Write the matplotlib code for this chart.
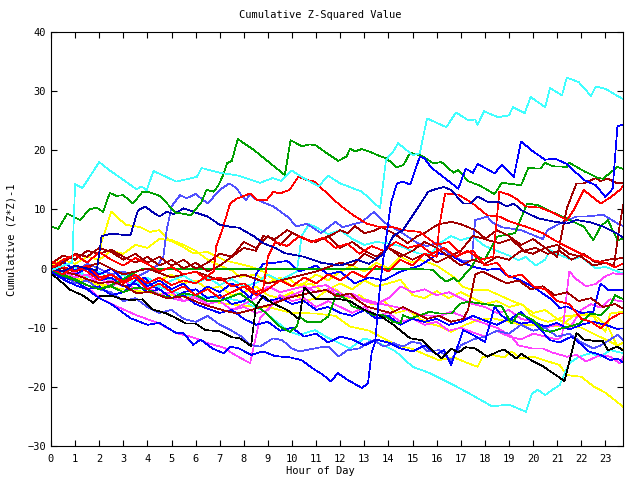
import matplotlib
matplotlib.use("Agg")
import matplotlib.pyplot as plt

# (hour, cumulative value) vertices, one list per trace
cyan_top = [(0, -0.3), (0.5, 0.5), (0.88, 1.0), (1.0, 14.3), (1.3, 13.6), (2.0, 18.0), (2.4, 16.7),
            (3.0, 15.0), (3.55, 13.4), (3.76, 13.9), (3.97, 13.2), (4.25, 16.5), (5.2, 14.7),
            (6.05, 15.5), (6.25, 17.0), (7.0, 16.2), (7.8, 15.7), (8.67, 14.5), (9.2, 15.3),
            (9.55, 14.8), (9.98, 16.6), (10.4, 15.5), (11.1, 13.9), (11.5, 15.7), (12.0, 14.4),
            (12.9, 13.0), (13.65, 10.2), (13.9, 18.4), (14.2, 19.8), (14.4, 21.2), (15.0, 19.2),
            (15.3, 19.5), (15.6, 25.4), (16.4, 23.9), (16.8, 26.4), (17.3, 25.1), (17.6, 25.2),
            (17.7, 24.3), (17.96, 26.6), (18.54, 25.6), (19.0, 25.9), (19.16, 27.3), (19.65, 26.3),
            (19.9, 29.0), (20.5, 27.3), (20.7, 30.5), (21.2, 29.3), (21.4, 32.3), (21.9, 31.5),
            (22.4, 29.2), (22.6, 30.8), (23.0, 30.4), (23.75, 28.6)]
green_top = [(0, 7.1), (0.3, 6.7), (0.68, 9.3), (1.2, 8.2), (1.6, 10.0), (1.9, 10.3), (2.16, 9.6),
             (2.44, 12.8), (2.7, 12.3), (3.0, 12.4), (3.4, 11.0), (3.8, 13.0), (4.0, 13.0), (4.5, 12.3),
             (5.2, 9.4), (5.45, 9.3), (5.8, 9.0), (6.25, 11.3), (6.45, 13.3), (6.75, 13.0), (6.95, 14.1),
             (7.15, 15.9), (7.3, 17.8), (7.5, 18.2), (7.75, 21.9), (8.0, 21.2), (8.4, 20.1), (9.1, 17.8),
             (9.7, 15.8), (9.94, 21.7), (10.4, 20.7), (10.75, 21.0), (11.0, 20.8), (11.44, 19.5),
             (11.92, 18.2), (12.27, 19.0), (12.41, 20.3), (12.6, 19.8), (12.89, 20.2), (13.2, 19.8),
             (13.65, 19.0), (13.93, 18.6), (14.34, 17.1), (14.62, 17.5), (14.9, 19.6), (15.38, 19.1),
             (15.86, 17.8), (16.2, 18.0), (16.7, 16.2), (16.9, 16.7), (17.3, 14.8), (17.8, 14.0),
             (18.4, 12.6), (18.7, 14.5), (19.5, 14.1), (19.8, 17.0), (20.3, 16.9), (20.5, 17.9),
             (20.8, 17.3), (21.4, 17.2), (21.5, 17.9), (22.1, 16.5), (22.7, 15.3), (22.9, 15.2),
             (23.5, 17.2), (23.75, 16.8)]
blue_deep = [(0, -0.5), (0.5, -1.8), (1, -2.8), (1.5, -3.5), (2, -5.0), (2.5, -6.0), (3, -7.5), (3.3, -8.4),
             (4, -9.5), (4.5, -9.2), (5.2, -10.9), (5.5, -10.9), (5.9, -12.9), (6.2, -12.0), (6.7, -13.5),
             (7.15, -14.3), (7.45, -13.2), (7.8, -13.5), (8.3, -14.6), (8.8, -14.0), (9.3, -14.8),
             (9.9, -15.0), (10.4, -15.5), (10.9, -17.0), (11.3, -18.0), (11.6, -19.1), (11.9, -17.7),
             (12.3, -18.8), (12.9, -20.2), (13.15, -19.4), (13.3, -14.3), (13.45, -12.4), (13.6, -5.0),
             (13.75, 0.5), (13.9, 5.0), (14.1, 11.0), (14.35, 14.4), (14.6, 14.7), (14.9, 14.2),
             (15.3, 18.9), (15.5, 18.6), (15.77, 17.1), (16.9, 13.5), (17.2, 16.9), (17.5, 16.2),
             (17.7, 17.7), (18.4, 16.1), (18.7, 17.5), (19.2, 15.5), (19.5, 21.5), (20.0, 19.8),
             (20.5, 18.4), (20.9, 18.6), (21.4, 17.7), (22.1, 15.0), (22.6, 14.1), (23.0, 12.1),
             (23.3, 13.5), (23.5, 24.1), (23.75, 24.3)]
navy_mid = [(0, 0.0), (0.5, -0.5), (1, 0.5), (1.5, 0.0), (1.9, -0.3), (2.1, 5.5), (2.5, 5.9), (3.0, 5.7),
            (3.3, 5.7), (3.6, 9.8), (3.9, 10.5), (4.2, 9.6), (4.5, 8.8), (4.8, 9.6), (5.1, 9.2), (5.5, 10.2),
            (5.9, 9.6), (6.5, 8.8), (7.0, 7.4), (7.4, 7.1), (7.8, 6.9), (8.4, 5.5), (8.8, 4.3), (9.3, 3.5),
            (9.7, 2.6), (10.5, 2.0), (11.2, 1.0), (12.0, 0.5), (12.7, 1.5), (13.2, 0.8), (13.8, 2.5),
            (14.2, 5.5), (14.6, 6.5), (15.3, 10.8), (15.65, 13.0), (16.0, 13.5), (16.3, 13.8),
            (16.6, 13.3), (17.1, 11.0), (17.4, 11.0), (17.7, 12.2), (18.1, 11.3), (18.55, 11.3),
            (18.9, 10.5), (19.2, 11.0), (19.5, 9.9), (20.2, 8.5), (20.8, 8.0), (21.4, 7.6), (21.8, 8.2),
            (22.4, 7.8), (22.9, 7.1), (23.5, 5.9), (23.75, 5.2)]
peri_top = [(0, 0.5), (0.5, 0.0), (1, -0.5), (1.5, 0.8), (2, 0.0), (2.5, -1.0), (3, -0.5), (3.5, -1.5),
            (4, -0.5), (4.4, 0.5), (4.66, 2.0), (4.8, 6.5), (5.0, 10.5), (5.35, 12.4), (5.63, 11.9),
            (6.0, 12.6), (6.5, 11.0), (7.0, 13.3), (7.4, 14.4), (7.7, 13.6), (7.84, 12.7), (8.1, 11.6),
            (8.25, 12.5), (8.5, 11.7), (9.23, 10.5), (9.8, 8.8), (10.2, 7.1), (10.6, 7.6), (11.2, 6.0),
            (11.8, 7.9), (12.1, 7.0), (12.9, 7.9), (13.4, 9.6), (13.9, 7.6), (14.5, 6.2), (15.2, 4.3),
            (15.6, 3.8), (16.0, 4.3), (16.5, 2.5), (17.1, 1.2), (17.45, 1.4), (17.6, 8.2), (18.1, 8.8),
            (18.3, 7.8), (18.7, 7.0), (19.5, 6.5), (20.4, 5.0), (20.6, 6.5), (21.1, 7.6), (21.8, 8.8),
            (22.2, 8.8), (22.9, 9.1), (23.6, 7.4), (23.75, 7.2)]
red_peak = [(0, 1.2), (0.5, 0.3), (1, -0.5), (1.5, 0.5), (2, -1.5), (2.5, -1.0), (3, -2.2), (3.5, -1.0),
            (4, -2.5), (4.5, -1.5), (5, -2.8), (5.5, -2.0), (6, -2.5), (6.5, -1.2), (6.75, -0.5),
            (6.85, 3.7), (7.1, 6.5), (7.43, 11.0), (7.7, 11.8), (8.26, 12.7), (8.53, 11.6), (8.95, 11.6),
            (9.23, 13.0), (9.5, 12.7), (9.9, 13.3), (10.26, 15.5), (10.6, 15.0), (10.95, 14.7),
            (11.3, 13.3), (11.99, 10.7), (12.55, 9.0), (13.1, 7.6), (13.65, 7.0), (14.2, 7.0),
            (14.6, 6.5), (15.3, 6.2), (16.0, 4.0), (16.5, 4.5), (17.0, 2.5), (17.5, 3.0), (18.0, 0.5),
            (18.5, 1.0), (19.0, -1.5), (19.5, -1.0), (20.0, -3.0), (20.5, -3.5), (21.0, -5.5),
            (21.5, -6.0), (22.0, -8.5), (22.4, -9.0), (22.8, -10.1), (23.2, -8.5), (23.6, -7.6),
            (23.75, -7.6)]
red_mid = [(0, 0.0), (0.5, -1.0), (1, 0.5), (1.5, -0.5), (2, -2.0), (2.5, -1.0), (3, -2.5), (3.5, -1.5),
           (4, -3.5), (4.5, -2.5), (5, -4.0), (5.5, -3.0), (6, -4.5), (6.5, -3.5), (7, -5.0), (7.5, -4.0),
           (8, -3.0), (8.5, -4.5), (9, -3.5), (9.5, -2.0), (10, -3.0), (10.5, -1.5), (11, -2.5),
           (11.5, -1.0), (12, -2.0), (12.5, -0.5), (13, -1.5), (13.5, 0.5), (14, -0.5), (14.5, 1.5),
           (15.0, 0.5), (15.5, 2.5), (16.0, 2.0), (16.1, 7.0), (16.35, 12.7), (16.9, 12.5), (17.5, 11.0),
           (18.1, 9.0), (18.6, 8.8), (19.0, 8.0), (19.7, 7.1), (20.4, 6.0), (20.8, 5.0), (21.4, 3.7),
           (22.0, 2.5), (22.5, 1.4), (23.0, 1.0), (23.4, 0.2), (23.75, 0.9)]
red_end = [(0, 0.0), (0.5, 1.5), (1, 2.3), (1.5, 1.0), (2, 2.8), (2.5, 1.5), (3, 0.5), (3.5, 1.8),
           (4, 0.8), (4.5, -0.5), (5, 0.3), (5.5, -1.0), (6, -0.5), (6.5, -2.0), (7, -1.5), (7.5, -3.0),
           (8, -2.5), (8.5, -4.0), (8.8, -3.5), (9.0, 2.0), (9.3, 4.5), (9.8, 3.8), (10.3, 5.5),
           (10.8, 4.5), (11.3, 5.2), (11.8, 3.5), (12.3, 4.2), (12.8, 2.5), (13.3, 3.8), (13.8, 3.0),
           (14.3, 4.5), (14.8, 3.5), (15.3, 4.0), (15.8, 2.5), (16.3, 3.5), (16.8, 2.0), (17.3, 3.0),
           (17.8, 1.5), (18.35, 2.0), (18.6, 13.0), (19.0, 12.5), (19.3, 11.8), (19.7, 10.5),
           (20.3, 10.3), (20.8, 9.5), (21.4, 8.2), (21.7, 10.0), (22.1, 13.3), (22.8, 11.0),
           (23.2, 12.0), (23.6, 13.3), (23.75, 14.0)]
darkred_end = [(0, 0.8), (0.5, 2.2), (1, 1.5), (1.5, 3.0), (2, 2.5), (2.5, 3.2), (3, 2.0), (3.5, 1.0),
               (4, 2.0), (4.5, 0.5), (5, 1.5), (5.5, 0.0), (6, 1.0), (6.5, -0.5), (7, 0.5), (7.5, 2.0),
               (8, 4.5), (8.5, 3.5), (9, 5.5), (9.5, 4.0), (10, 6.0), (10.5, 5.0), (11, 4.5), (11.5, 5.5),
               (12, 3.5), (12.5, 4.5), (13, 3.0), (13.5, 2.0), (14, 3.5), (14.5, 2.5), (15, 1.5),
               (15.5, 2.5), (16, 1.0), (16.5, 2.0), (17, 0.5), (17.5, 1.5), (18, 0.8), (18.5, 2.0),
               (19, 1.5), (19.5, 3.0), (20, 2.5), (20.5, 3.5), (21, 2.0), (21.4, 10.2), (21.8, 14.4),
               (22.1, 14.4), (22.6, 15.3), (22.8, 14.8), (23.1, 15.2), (23.5, 14.4), (23.75, 14.5)]
darkred_jump = [(0, 0.5), (1, -0.5), (2, 1.0), (3, -1.0), (4, 0.0), (5, -1.5), (6, -0.5), (7, -2.0),
                (8, -1.0), (9, -2.5), (10, -1.5), (11, -0.5), (12, 1.0), (12.5, 0.5), (13, 2.5),
                (13.5, 1.5), (14, 3.5), (14.5, 2.0), (15, 3.0), (15.5, 4.5), (16, 3.5), (16.5, 2.0),
                (17, 3.0), (17.5, 5.5), (18, 5.0), (18.5, 6.5), (19, 5.5), (19.5, 4.0), (20, 5.0),
                (20.5, 3.5), (21, 4.0), (21.5, 2.5), (22, 2.0), (22.5, 0.5), (23, 1.0), (23.35, 0.5),
                (23.6, 7.5), (23.75, 11.0)]
darkred_mid = [(0, 0.0), (0.5, 1.0), (1, 2.5), (1.5, 2.0), (2, 3.5), (2.5, 2.8), (3, 1.5), (3.5, 2.5),
               (4, 1.0), (4.5, 2.0), (5, 0.5), (5.5, 1.5), (6, 0.0), (6.5, 1.0), (7, 2.5), (7.5, 2.0),
               (8, 3.5), (8.5, 3.0), (8.8, 5.5), (9.3, 5.0), (9.8, 6.5), (10.3, 5.5), (10.8, 4.5),
               (11.3, 5.0), (11.7, 5.8), (12.0, 6.5), (12.3, 6.0), (12.6, 7.2), (13.0, 6.0), (13.4, 6.4),
               (13.7, 7.0), (14.2, 6.0), (14.8, 4.3), (15.2, 5.5), (15.5, 6.0), (15.9, 7.1), (16.1, 7.5),
               (16.6, 7.9), (17.0, 7.5), (17.6, 6.5), (18.1, 4.8), (18.6, 4.3), (19.1, 5.0), (19.6, 3.0),
               (20.1, 3.5), (20.6, 2.5), (21.1, 3.0), (21.6, 1.5), (22.1, 2.5), (22.6, 1.0), (23.1, 1.5),
               (23.75, 1.8)]
darkred_low = [(0, 0.5), (0.5, -0.5), (1, -1.0), (1.5, -1.8), (2, -2.5), (2.5, -2.2), (3, -2.8),
               (3.56, -4.2), (4.1, -3.9), (4.8, -5.0), (5.5, -4.7), (6.2, -5.9), (6.6, -6.4), (7.1, -7.0),
               (7.7, -7.6), (8.3, -7.0), (8.7, -6.5), (9.2, -6.0), (9.8, -5.0), (10.3, -4.5), (11.0, -3.9),
               (11.4, -3.6), (11.85, -4.7), (12.4, -4.2), (12.7, -5.3), (13.1, -6.4), (13.6, -7.0),
               (14.1, -7.5), (14.6, -6.5), (15.1, -7.5), (15.6, -8.5), (16.1, -8.0), (16.6, -9.0),
               (17.1, -8.5), (17.3, -7.0), (17.6, -1.0), (17.9, -0.5), (18.4, -1.5), (18.9, -2.5),
               (19.4, -2.0), (19.9, -3.5), (20.4, -3.0), (20.9, -4.5), (21.4, -4.0), (21.9, -5.5),
               (22.4, -5.0), (22.9, -6.5), (23.4, -6.0), (23.75, -6.8)]
green_flat = [(0, 0.0), (0.5, -1.0), (1, -1.8), (1.5, -2.8), (2, -3.5), (2.5, -2.8), (3, -1.8),
              (3.4, -0.8), (3.76, -0.1), (15.3, -0.1), (15.85, -0.2), (16.1, -1.3), (16.4, -2.2),
              (16.7, -1.6), (16.9, -2.2), (17.4, 0.0), (17.7, 2.0), (18.0, 1.5), (18.5, 5.4),
              (19.25, 6.0), (19.75, 11.0), (20.2, 10.7), (20.6, 9.9), (21.2, 8.8), (22.1, 7.1),
              (22.5, 4.8), (22.8, 7.1), (23.1, 8.2), (23.5, 4.8), (23.75, 5.1)]
green_low = [(0, -0.5), (0.5, -1.2), (1, -2.0), (1.5, -2.8), (2, -3.5), (2.5, -3.0), (3, -4.0), (3.5, -3.2),
             (4, -3.5), (4.5, -4.5), (5, -5.0), (5.5, -4.2), (6, -4.5), (6.5, -5.5), (7, -5.5),
             (7.84, -4.2), (8.4, -5.9), (8.95, -7.6), (9.5, -9.8), (9.9, -10.7), (10.2, -9.8),
             (10.3, -8.1), (10.6, -9.0), (11.2, -9.0), (11.5, -8.1), (11.85, -4.2), (12.3, -5.3),
             (12.5, -6.4), (13.0, -7.0), (13.4, -7.9), (13.8, -7.9), (14.2, -9.0), (14.5, -9.3),
             (14.6, -7.9), (14.9, -8.4), (15.3, -7.9), (15.7, -7.3), (16.1, -7.6), (16.6, -7.6),
             (17.0, -5.9), (17.3, -5.6), (17.8, -5.9), (18.3, -6.2), (18.7, -6.4), (19.1, -9.3),
             (19.4, -7.6), (19.7, -8.1), (20.0, -8.7), (20.4, -10.4), (20.7, -10.7), (21.2, -10.1),
             (21.5, -9.8), (21.9, -9.3), (22.4, -7.6), (22.8, -7.9), (23.2, -6.2), (23.4, -4.5),
             (23.75, -5.2)]
cyan_mid = [(0, 0.2), (0.5, -0.8), (1, 0.3), (1.5, -1.5), (2, -0.5), (2.5, -2.0), (3, -1.0), (3.5, -2.5),
            (4, -1.5), (4.5, -3.0), (5, -2.0), (5.5, -1.2), (6, -2.5), (6.5, -1.5), (7, -2.8), (7.5, -1.8),
            (8, -3.0), (8.5, -2.5), (9, -1.0), (9.5, -2.0), (10.2, -0.5), (10.4, 5.5), (10.7, 7.5),
            (11.0, 7.0), (11.5, 5.8), (12.0, 6.5), (12.5, 5.0), (13.0, 4.0), (13.5, 4.5), (13.9, 4.3),
            (14.5, 3.8), (15.2, 2.6), (15.7, 2.4), (16.2, 4.5), (16.6, 5.5), (17.0, 4.8), (17.5, 5.4),
            (18.0, 3.8), (18.5, 3.0), (19.0, 2.2), (19.4, 1.4), (19.7, 2.0), (20.1, 0.5), (20.5, 1.5),
            (20.7, 3.1), (21.1, 2.3), (21.6, 1.5), (22.0, 2.0), (22.6, 0.0), (23.0, 0.3), (23.75, -0.9)]
cyan_low = [(0, -0.3), (1, -0.8), (2, -1.5), (3, -2.2), (4.5, -3.1), (5.5, -4.5), (6.5, -4.8), (7.5, -5.2),
            (8.0, -5.6), (8.8, -7.1), (9.2, -8.5), (9.9, -10.7), (10.3, -11.2), (10.95, -10.4),
            (11.4, -11.5), (11.95, -12.6), (12.4, -13.5), (13.0, -11.8), (13.6, -12.6), (14.3, -14.0),
            (15.0, -16.6), (15.73, -17.7), (16.7, -19.7), (17.3, -21.0), (18.3, -23.3), (19.0, -23.0),
            (19.7, -24.2), (19.96, -21.1), (20.2, -20.5), (20.5, -21.4), (20.8, -20.5), (21.1, -19.7),
            (21.5, -16.0), (21.9, -14.9), (22.4, -14.3), (22.8, -14.9), (23.2, -13.8), (23.75, -14.3)]
blue_mid = [(0, 0.0), (0.5, 1.2), (1, -0.3), (1.5, 0.5), (2, -1.0), (2.5, 0.0), (3, -2.0), (3.5, -1.0),
            (4, -3.0), (4.5, -2.0), (5, -3.5), (5.5, -2.5), (6, -4.5), (6.5, -3.0), (7, -4.0), (7.5, -2.5),
            (8, -4.0), (8.3, -5.0), (8.5, -1.0), (8.8, 0.8), (9.3, 1.0), (9.8, 1.3), (10.3, -0.5),
            (11.0, 0.5), (11.5, -1.0), (12.0, -0.5), (12.6, -2.5), (13.2, -1.5), (13.8, -2.0),
            (14.5, -0.5), (15.3, 0.5), (16.1, 2.6), (16.7, 2.0), (17.1, 1.0), (17.5, 0.3), (18.1, -0.2),
            (18.6, 0.0), (18.9, -1.1), (19.5, -2.0), (20.0, -3.1), (20.4, -4.2), (20.8, -5.3),
            (21.1, -6.7), (21.4, -6.4), (22.0, -7.5), (22.5, -7.3), (22.7, -4.0), (22.8, -2.5),
            (23.1, -3.6), (23.75, -3.6)]
blue_low = [(0, 0.5), (0.5, -0.5), (1, -1.0), (1.5, 0.0), (2, -2.0), (2.5, -1.5), (3, -3.0), (3.5, -2.5),
            (4, -4.0), (4.5, -3.5), (5, -5.0), (5.5, -4.0), (6, -3.5), (6.5, -5.0), (7, -4.5), (7.5, -6.0),
            (8, -5.5), (8.5, -4.0), (9, -5.5), (9.5, -5.0), (10, -6.0), (10.5, -5.5), (11, -7.0),
            (11.5, -6.5), (12, -7.5), (12.5, -8.0), (13, -7.0), (13.5, -8.5), (14, -8.0), (14.5, -9.5),
            (15, -8.5), (15.5, -9.0), (16, -8.5), (16.5, -9.5), (17, -9.0), (17.5, -8.0), (18, -8.8),
            (18.5, -9.5), (19, -8.5), (19.5, -9.3), (20, -9.0), (20.5, -9.8), (21, -9.2), (21.5, -10.3),
            (22, -9.5), (22.5, -9.0), (23, -9.5), (23.5, -10.2), (23.75, -10.1)]
blue_bottom = [(0, -0.3), (0.5, -1.5), (1, -2.0), (1.5, -3.5), (2, -3.0), (2.5, -4.5), (3, -4.0),
               (3.5, -2.0), (3.9, -1.5), (4.2, -3.0), (4.5, -3.5), (5, -5.0), (5.5, -4.5), (6, -6.0),
               (6.5, -6.8), (7, -7.5), (7.5, -7.0), (8, -8.5), (8.5, -9.5), (9, -9.0), (9.5, -10.5),
               (10, -10.0), (10.5, -11.5), (11, -11.0), (11.5, -12.5), (12, -11.5), (12.5, -12.0),
               (13, -13.0), (13.5, -12.0), (14, -12.5), (14.5, -13.5), (15, -14.0), (15.5, -13.0),
               (16, -14.5), (16.3, -13.8), (16.6, -16.3), (17.1, -10.4), (17.5, -11.2), (18.0, -12.4),
               (18.4, -6.4), (18.7, -8.0), (19.0, -8.7), (19.5, -7.3), (19.8, -8.5), (20.2, -9.8),
               (20.7, -12.1), (21.1, -12.5), (21.6, -11.5), (21.9, -12.5), (22.3, -14.0), (22.8, -14.6),
               (23.2, -15.5), (23.5, -15.2), (23.75, -15.9)]
peri_low = [(0, 0.0), (0.5, -1.0), (1, -2.5), (1.5, -2.0), (2, -3.5), (2.5, -4.0), (3, -5.5), (3.5, -5.0),
            (4, -6.5), (4.5, -7.5), (5, -7.0), (5.5, -8.5), (6, -9.0), (6.5, -8.0), (7, -9.5), (7.5, -10.5),
            (7.9, -11.5), (8.26, -12.9), (8.67, -13.2), (9.2, -11.8), (9.6, -12.1), (9.98, -13.5),
            (10.3, -14.0), (11.2, -13.3), (11.5, -13.2), (11.92, -14.9), (12.3, -13.8), (12.8, -13.5),
            (13.1, -12.6), (13.4, -12.1), (13.8, -13.2), (14.2, -12.6), (14.6, -13.2), (14.96, -12.4),
            (15.3, -12.6), (15.6, -14.0), (16.1, -13.8), (16.6, -15.5), (17.0, -13.0), (17.5, -12.0),
            (18.0, -11.5), (18.5, -10.5), (19.0, -11.0), (19.5, -9.5), (20.0, -10.5), (20.5, -10.0),
            (21.0, -11.5), (21.5, -11.0), (22.0, -12.5), (22.5, -13.5), (22.8, -13.0), (23.2, -12.0),
            (23.5, -11.2), (23.75, -12.1)]
black = [(0, -0.8), (0.5, -2.5), (0.8, -3.6), (1.3, -4.5), (1.76, -5.8), (2.04, -4.6), (2.5, -4.6),
         (2.9, -5.1), (3.3, -5.3), (3.8, -5.2), (4.2, -6.9), (4.8, -7.6), (5.2, -8.4), (5.6, -9.3),
         (6.0, -9.3), (6.4, -10.4), (7.0, -10.6), (7.5, -11.6), (7.84, -11.8), (8.3, -13.1),
         (8.5, -6.4), (8.8, -4.6), (9.2, -5.9), (9.8, -7.0), (10.3, -8.6), (10.5, -3.2), (11.0, -5.1),
         (11.3, -5.1), (12.0, -5.2), (12.4, -5.5), (13.0, -7.0), (13.7, -8.1), (14.2, -9.5),
         (14.9, -11.8), (15.4, -12.1), (15.73, -13.5), (16.2, -15.2), (16.6, -13.5), (16.9, -14.2),
         (17.2, -13.3), (17.6, -13.5), (18.1, -14.9), (18.5, -14.1), (18.8, -13.7), (19.3, -15.2),
         (19.5, -14.4), (20.0, -15.7), (20.4, -16.5), (21.3, -19.0), (21.8, -10.9), (22.1, -12.0),
         (22.5, -12.2), (22.9, -12.3), (23.1, -13.8), (23.5, -13.2), (23.75, -13.9)]
magenta_up = [(0, 0.5), (0.5, -0.5), (1, -1.5), (1.5, -1.0), (2, -2.5), (2.5, -2.0), (3, -3.0), (3.5, -2.5),
              (4, -4.0), (4.5, -3.5), (5, -5.0), (5.5, -5.5), (6, -4.5), (6.5, -6.0), (7, -5.5), (7.5, -7.0),
              (8, -6.5), (8.5, -7.5), (9, -7.0), (9.5, -4.5), (10, -5.5), (10.5, -5.0), (11, -6.5),
              (11.5, -5.5), (12, -6.5), (12.5, -7.5), (13, -6.5), (13.5, -8.0), (14, -7.5), (14.5, -9.0),
              (15, -8.5), (15.5, -9.5), (16, -9.0), (16.5, -10.5), (17, -10.0), (17.5, -10.8),
              (18, -11.5), (18.5, -10.5), (19, -11.5), (19.5, -12.0), (20, -11.0), (20.5, -11.5),
              (21, -12.0), (21.2, -11.5), (21.5, -0.5), (21.8, -1.8), (22.2, -3.0), (22.6, -2.6),
              (23.0, -1.3), (23.3, -0.8), (23.75, -1.0)]
magenta_mid = [(0, 0.0), (0.5, -1.0), (1, -0.5), (1.5, -2.0), (2, -1.5), (2.5, -3.0), (3, -2.0), (3.5, -3.5),
               (4, -3.0), (4.5, -4.5), (5, -4.0), (5.5, -5.5), (6, -5.0), (6.5, -6.0), (7, -5.5), (7.5, -7.0),
               (8, -6.0), (8.5, -5.0), (9, -3.0), (9.5, -4.0), (10, -3.5), (10.5, -3.0), (11, -4.0),
               (11.5, -3.5), (12, -4.8), (12.5, -4.2), (13, -5.5), (13.5, -6.0), (14, -5.0), (14.5, -3.0),
               (15, -4.0), (15.5, -3.5), (16, -4.5), (16.5, -4.0), (17, -5.0), (17.5, -6.0), (18, -6.5),
               (18.5, -7.5), (19, -7.0), (19.5, -8.5), (20, -9.0), (20.5, -10.0), (21, -9.5), (21.5, -10.2),
               (22, -7.0), (22.4, -6.0), (22.8, -6.6), (23.2, -5.2), (23.75, -5.6)]
magenta_low = [(0, -0.5), (0.5, -1.3), (1.1, -2.5), (1.6, -3.5), (2.1, -5.2), (2.73, -6.4), (3.55, -7.9),
               (4.5, -9.3), (5.2, -10.9), (5.8, -11.5), (6.5, -12.6), (7.2, -13.4), (7.5, -14.3),
               (8.26, -16.0), (8.5, -11.5), (8.67, -8.4), (9.2, -5.9), (9.8, -4.8), (10.3, -4.0),
               (10.9, -3.1), (11.4, -2.8), (12.0, -4.2), (12.5, -5.0), (13.1, -5.3), (13.6, -5.9),
               (14.2, -6.4), (14.8, -7.0), (15.3, -7.8), (16.1, -8.1), (16.6, -7.3), (17.1, -8.1),
               (17.8, -9.0), (18.55, -10.1), (19.1, -11.5), (19.4, -13.0), (19.96, -13.5), (20.4, -13.5),
               (20.8, -14.2), (21.4, -14.9), (21.8, -14.6), (22.2, -15.7), (22.8, -14.6), (23.2, -14.9),
               (23.6, -16.0), (23.75, -14.9)]
yellow_up = [(0, 0.5), (0.5, 1.5), (1, 0.8), (1.5, 2.0), (2, 1.5), (2.5, 3.0), (3, 2.5), (3.5, 4.0),
             (4, 3.5), (4.5, 5.0), (5, 4.8), (5.5, 4.0), (6, 3.0), (6.5, 1.5), (7, 0.5), (7.5, -0.3),
             (7.84, -1.4), (8.5, -1.0), (9, -2.5), (9.5, -1.5), (10, -3.0), (10.5, -2.5), (11, -1.0),
             (11.5, -2.0), (12, -0.5), (12.5, 0.5), (13, -0.5), (13.5, 1.0), (14, 0.0), (14.5, 2.0),
             (15, 1.0), (15.3, 1.5), (16.0, 0.5), (16.7, -1.4), (17.1, -3.1), (17.5, -3.6), (18.1, -3.6),
             (18.6, -4.5), (19.2, -5.6), (19.6, -6.2), (19.9, -7.8), (20.2, -8.4), (20.6, -9.0),
             (20.9, -8.7), (21.3, -8.1), (21.7, -7.9), (22.1, -7.9), (22.5, -8.1), (22.8, -9.8),
             (23.0, -10.7), (23.2, -7.6), (23.75, -7.3)]
yellow_spike = [(0, 0.0), (0.5, -1.0), (1, -0.5), (1.5, -1.5), (1.9, 0.0), (2.1, 4.5), (2.5, 9.6),
                (2.8, 8.5), (3.1, 7.4), (3.7, 7.0), (4.1, 6.2), (4.5, 6.5), (4.9, 4.8), (5.5, 3.6),
                (5.9, 2.6), (6.5, 2.8), (7.2, 1.4), (7.7, 0.9), (8.3, 0.3), (8.8, -0.5), (9.3, -2.0),
                (9.8, -1.5), (10.3, -3.0), (10.8, -2.5), (11.3, -4.0), (11.8, -3.5), (12.3, -5.0),
                (12.8, -4.5), (13.3, -6.0), (13.8, -5.5), (14.3, -7.5), (14.8, -7.0), (15.3, -8.5),
                (15.73, -9.3), (16.15, -9.8), (16.6, -10.7), (17.2, -9.5), (17.7, -8.7), (18.3, -8.4),
                (19.0, -9.0), (19.5, -9.5), (20.0, -9.5), (21.1, -9.8), (21.65, -8.1), (22.1, -7.6),
                (22.6, -8.1), (23.1, -9.8), (23.5, -13.2), (23.75, -13.8)]
yellow_low = [(0, 0.0), (1, -1.5), (2, -2.8), (3, -3.5), (4, -4.0), (5, -4.5), (6, -5.0), (7, -5.8),
              (8, -6.3), (9, -6.5), (10, -7.5), (11, -7.6), (11.8, -8.0), (12.4, -9.8), (13.2, -10.5),
              (13.8, -11.8), (14.3, -12.9), (15.0, -13.6), (15.5, -14.5), (16.1, -15.5), (16.7, -15.0),
              (17.3, -16.0), (17.7, -16.6), (17.9, -15.0), (18.3, -14.6), (18.8, -15.0), (19.1, -14.0),
              (19.5, -15.2), (20.0, -14.9), (20.7, -15.8), (21.1, -16.3), (21.4, -18.0), (22.0, -18.3),
              (22.5, -19.9), (23.0, -21.0), (23.75, -23.4)]
yellow_mid = [(0, 0.0), (0.5, -0.8), (1, -1.5), (1.5, -1.0), (2, -2.5), (2.5, -3.0), (3, -2.0), (3.5, -3.5),
              (4, -3.0), (4.5, -2.0), (5, -1.0), (5.5, -2.5), (6, -2.0), (6.5, -3.5), (7, -3.0), (7.5, -4.5),
              (8, -4.0), (8.5, -3.0), (9, -4.5), (9.5, -5.0), (10, -4.0), (10.5, -5.5), (11, -5.0),
              (11.5, -3.5), (12, -2.5), (12.5, -3.5), (13, -2.0), (13.5, -3.0), (14, -2.5), (14.5, -1.9),
              (15, -4.5), (15.5, -5.0), (16, -3.8), (16.5, -5.0), (17, -4.0), (17.5, -5.0), (18, -6.0),
              (18.5, -5.5), (19, -6.5), (19.5, -6.0), (20, -7.5), (20.5, -7.0), (21, -8.5), (21.5, -9.5),
              (22, -10.0), (22.5, -11.0), (23, -12.0), (23.5, -13.0), (23.75, -12.5)]

HOUR_TICKS = list(range(24))
VALUE_TICKS = list(range(-30, 41, 10))

RED, GREEN, BLUE, MAGENTA = "#ff0000", "#00a000", "#0000ff", "#ff40ff"
CYAN, DARKRED, YELLOW, PERI = "#40ffff", "#a00000", "#ffff00", "#5050ff"
NAVY, BLACK = "#0000b0", "#000000"

traces = [
    (yellow_low, YELLOW), (yellow_mid, YELLOW), (yellow_up, YELLOW), (yellow_spike, YELLOW),
    (cyan_low, CYAN), (cyan_mid, CYAN), (magenta_low, MAGENTA), (magenta_mid, MAGENTA),
    (magenta_up, MAGENTA), (peri_low, PERI), (peri_top, PERI), (blue_low, BLUE),
    (blue_bottom, BLUE), (blue_mid, BLUE), (green_low, GREEN), (green_flat, GREEN),
    (darkred_low, DARKRED), (darkred_mid, DARKRED), (darkred_jump, DARKRED), (darkred_end, DARKRED),
    (red_mid, RED), (red_end, RED), (red_peak, RED), (black, BLACK), (navy_mid, NAVY),
    (green_top, GREEN), (blue_deep, BLUE), (cyan_top, CYAN),
]

plt.rcParams["font.family"] = "DejaVu Sans Mono"
fig = plt.figure(figsize=(6.4, 4.8), dpi=100)
ax = fig.add_axes([51 / 640, 34 / 480, 572 / 640, 414 / 480])

for pts, col in traces:
    ax.plot([p[0] for p in pts], [p[1] for p in pts], color=col, lw=0.5, antialiased=False)

ax.set_xlim(0, 23.73)
ax.set_ylim(-30, 40)
ax.set_xticks(HOUR_TICKS)
ax.set_yticks(VALUE_TICKS)
ax.tick_params(direction="in", top=True, right=True, length=4.5, width=0.8, labelsize=7.5)
ax.tick_params(axis="x", pad=6)
for s in ax.spines.values():
    s.set_linewidth(0.8)

fig.text(0.5, 1 - 15 / 480, "Cumulative Z-Squared Value", ha="center", va="center", fontsize=7.5)
fig.text(0.5, 1 - 471 / 480, "Hour of Day", ha="center", va="center", fontsize=7.5)
fig.text(12 / 640, 0.5, "Cumulative (Z*Z)-1", rotation=90, ha="center", va="center", fontsize=7.5)

fig.savefig("out.png", dpi=100)
